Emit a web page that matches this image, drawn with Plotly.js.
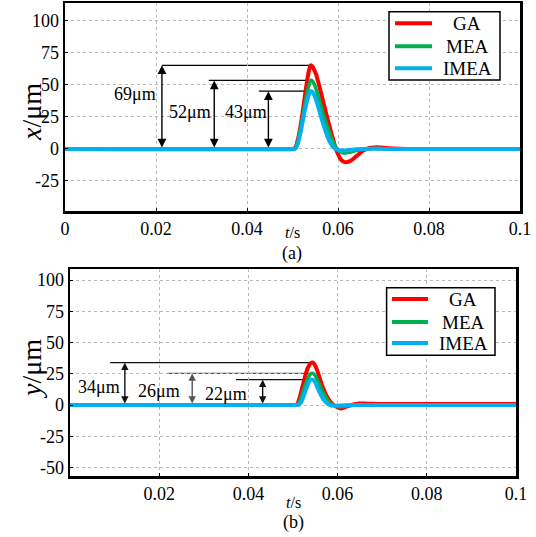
<!DOCTYPE html>
<html>
<head>
<meta charset="utf-8">
<script src="https://cdn.plot.ly/plotly-3.0.1.min.js"></script>
<style>html,body{margin:0;padding:0;background:#fff;}#chart{width:536px;height:537px;}</style>
</head>
<body>
<div id="chart"></div>
<script>
// ---------- data ----------
const seriesNames = ['GA', 'MEA', 'IMEA'];

// (a) x displacement, µm
const tTop = [0, 0.0500, 0.0504, 0.0508, 0.0512, 0.0516, 0.0520, 0.0524, 0.0528, 0.0532, 0.0536, 0.0540, 0.0544, 0.0548, 0.0552, 0.0556, 0.0560, 0.0564, 0.0568, 0.0572, 0.0576, 0.0580, 0.0584, 0.0588, 0.0592, 0.0596, 0.0600, 0.0605, 0.0610, 0.0615, 0.0620, 0.0625, 0.0630, 0.0640, 0.0650, 0.0660, 0.0670, 0.0680, 0.0690, 0.0700, 0.0720, 0.0750, 0.1000];
const gaX   = [0, 0, 0.3, 2.5, 7.5, 14.5, 23, 33, 43.5, 53, 61, 65.3, 64.3, 61.5, 58, 53, 47.5, 42, 36, 30.5, 25, 19.5, 14, 9, 4, -0.5, -4, -7.5, -9.5, -10.3, -10.3, -9.8, -8.8, -5.8, -2.8, -0.5, 0.7, 1.2, 1.2, 0.9, 0.4, 0, 0];
const meaX  = [0, 0, 0.2, 2, 6.5, 13, 20.5, 28.5, 36.5, 43.5, 49.5, 53.5, 53, 50.5, 46.5, 42, 37, 32, 27, 22.5, 18, 14, 10, 6.5, 3.5, 1, -1, -2.3, -3, -3.2, -3, -2.6, -2.2, -1.3, -0.6, -0.1, 0.2, 0.3, 0.3, 0.2, 0.1, 0, 0];
const imeaX = [0, 0, 0, 1, 4.5, 10, 17, 24.5, 31.5, 37.5, 42.5, 45.1, 44.5, 42, 38, 33.5, 28.5, 23.5, 19, 14.5, 10.5, 7, 4.2, 2, 0.6, -0.3, -0.8, -1.2, -1.3, -1.2, -1, -0.8, -0.6, -0.3, -0.1, 0, 0.1, 0.1, 0.1, 0, 0, 0, 0];
const topLabels = ['69μm', '52μm', '43μm'];

// (b) y displacement, µm
const tBot = [0, 0.0500, 0.0505, 0.0510, 0.0515, 0.0520, 0.0525, 0.0530, 0.0535, 0.0540, 0.0545, 0.0550, 0.0555, 0.0560, 0.0565, 0.0570, 0.0575, 0.0580, 0.0585, 0.0590, 0.0595, 0.0600, 0.0605, 0.0610, 0.0620, 0.0630, 0.0640, 0.0650, 0.0660, 0.0670, 0.0680, 0.0700, 0.0750, 0.0800, 0.1000];
const gaY   = [0, 0, 0, 1, 6, 13, 20, 26.5, 31, 33.5, 33.9, 31.5, 27, 21.5, 16, 11.5, 7.5, 4.5, 2, 0.5, -0.8, -2, -2.6, -2.5, -1.2, 0, 0.8, 1.2, 1.2, 1.1, 1, 0.9, 0.8, 0.8, 0.8];
const meaY  = [0, 0, 0, 0, 3, 8, 13.5, 18.5, 22.5, 25, 25.3, 23.5, 20, 16, 12, 8.5, 5.5, 3, 1.2, 0, -0.8, -1.3, -1.4, -1.2, -0.7, -0.3, 0, 0.2, 0.3, 0.3, 0.3, 0.2, 0.1, 0, 0];
const imeaY = [0, 0, 0, 0, 0.5, 3.5, 8.5, 13.5, 18, 20.3, 20.3, 18, 14, 10, 6.5, 3.8, 1.8, 0.5, -0.2, -0.5, -0.6, -0.5, -0.4, -0.3, -0.1, 0, 0, 0, 0, 0, 0, 0, 0, 0, 0];
const botLabels = ['34μm', '26μm', '22μm'];

// tick labels
const xTickValsTop = [0, 0.02, 0.04, 0.06, 0.08, 0.1];
const xTickTextTop = ['0', '0.02', '0.04', '0.06', '0.08', '0.1'];
const xTickValsBot = [0.02, 0.04, 0.06, 0.08, 0.1];
const xTickTextBot = ['0.02', '0.04', '0.06', '0.08', '0.1'];
const yTickValsTop = [-25, 0, 25, 50, 75, 100];
const yTickTextTop = ['-25', '0', '25', '50', '75', '100'];
const yTickValsBot = [-50, -25, 0, 25, 50, 75, 100];
const yTickTextBot = ['-50', '-25', '0', '25', '50', '75', '100'];

// ---------- styles / positions ----------
const colors = ['#ff0000', '#00b050', '#00b0f0'];
const widths = [4, 3.5, 4];
const FONT = 'Liberation Serif';
const W = 536, H = 537;

const topMarkPos = [
  {arrowT: 0.0213, lineT: 0.0213, labT: 0.0153, labY: 43},
  {arrowT: 0.0328, lineT: 0.0316, labT: 0.0275, labY: 28.5},
  {arrowT: 0.0447, lineT: 0.0426, labT: 0.0397, labY: 28.5}
];
const botMarkPos = [
  {arrowT: 0.0123, lineT: 0.0090, labT: 0.0064, labY: 14.5, color: '#111'},
  {arrowT: 0.0274, lineT: 0.0217, labT: 0.0200, labY: 11.0, color: '#555'},
  {arrowT: 0.0432, lineT: 0.0372, labT: 0.0350, labY: 8.5, color: '#111'}
];
// legend boxes in pixels: box [x0,x1,y0,y1], swatch x0/x1, row ys, text centre x
const legendPos = [
  {box: [389, 500, 11.7, 80], sw: [395, 432], rows: [23.3, 46.2, 68.3], tx: 467},
  {box: [386.6, 495, 287.7, 355.2], sw: [392, 428], rows: [299, 322, 343], tx: 463}
];

function peak(t, v) {
  let k = 0;
  for (let i = 1; i < v.length; i++) if (v[i] > v[k]) k = i;
  return {t: t[k], v: v[k]};
}

const topSeries = [gaX, meaX, imeaX];
const botSeries = [gaY, meaY, imeaY];

const traces = [];
topSeries.forEach((v, i) => traces.push({
  type: 'scatter', mode: 'lines', x: tTop, y: v, name: seriesNames[i],
  xaxis: 'x', yaxis: 'y', showlegend: false,
  line: {color: colors[i], width: widths[i], shape: 'spline', smoothing: 0.6}
}));
botSeries.forEach((v, i) => traces.push({
  type: 'scatter', mode: 'lines', x: tBot, y: v, name: seriesNames[i],
  xaxis: 'x2', yaxis: 'y2', showlegend: false,
  line: {color: colors[i], width: widths[i], shape: 'spline', smoothing: 0.6}
}));

const shapes = [];
const annotations = [];
const txtFont = (s) => ({family: FONT, size: s, color: '#000'});

function addMarks(series, t, pos, labels, xr, yr, fontSize, headSize) {
  series.forEach((v, i) => {
    const p = peak(t, v);
    const c = pos[i].color || '#000';
    shapes.push({type: 'line', xref: xr, yref: yr, x0: pos[i].lineT, x1: p.t, y0: p.v, y1: p.v,
      line: {color: c, width: 1.3}, layer: 'below'});
    annotations.push({xref: xr, yref: yr, axref: xr, ayref: yr,
      x: pos[i].arrowT, y: p.v, ax: pos[i].arrowT, ay: 0, text: '',
      font: {size: 1}, showarrow: true, arrowside: 'end+start',
      arrowhead: 2, startarrowhead: 2, arrowsize: headSize, startarrowsize: headSize,
      arrowwidth: 1.4, arrowcolor: c, standoff: 0, startstandoff: 0});
    annotations.push({xref: xr, yref: yr, x: pos[i].labT, y: pos[i].labY, text: labels[i],
      showarrow: false, xanchor: 'center', yanchor: 'middle', font: txtFont(fontSize)});
  });
}
addMarks(topSeries, tTop, topMarkPos, topLabels, 'x', 'y', 18, 1.25);
addMarks(botSeries, tBot, botMarkPos, botLabels, 'x2', 'y2', 18, 1.05);

// legends
legendPos.forEach((lp, k) => {
  shapes.push({type: 'rect', xref: 'paper', yref: 'paper',
    x0: lp.box[0] / W, x1: lp.box[1] / W, y0: 1 - lp.box[3] / H, y1: 1 - lp.box[2] / H,
    line: {color: '#000', width: 1.5}, fillcolor: '#fff', layer: 'above'});
  seriesNames.forEach((nm, i) => {
    const yy = 1 - lp.rows[i] / H;
    shapes.push({type: 'line', xref: 'paper', yref: 'paper',
      x0: lp.sw[0] / W, x1: lp.sw[1] / W, y0: yy, y1: yy,
      line: {color: colors[i], width: 4}, layer: 'above'});
    annotations.push({xref: 'paper', yref: 'paper', x: lp.tx / W, y: yy, text: nm,
      showarrow: false, xanchor: 'center', yanchor: 'middle', font: txtFont(19)});
  });
});

// axis titles and panel captions
annotations.push({xref: 'paper', yref: 'paper', x: 292 / W, y: 1 - 232 / H, text: '<i>t</i>/s',
  showarrow: false, xanchor: 'center', yanchor: 'middle', font: txtFont(16)});
annotations.push({xref: 'paper', yref: 'paper', x: 292 / W, y: 1 - 253 / H, text: '(a)',
  showarrow: false, xanchor: 'center', yanchor: 'middle', font: txtFont(18)});
annotations.push({xref: 'paper', yref: 'paper', x: 293 / W, y: 1 - 502 / H, text: '<i>t</i>/s',
  showarrow: false, xanchor: 'center', yanchor: 'middle', font: txtFont(16)});
annotations.push({xref: 'paper', yref: 'paper', x: 293 / W, y: 1 - 522 / H, text: '(b)',
  showarrow: false, xanchor: 'center', yanchor: 'middle', font: txtFont(18)});
annotations.push({xref: 'paper', yref: 'paper', x: 31 / W, y: 1 - 112 / H, text: '<i>x</i>/μm',
  showarrow: false, textangle: -90, xanchor: 'center', yanchor: 'middle', font: txtFont(28)});
annotations.push({xref: 'paper', yref: 'paper', x: 31 / W, y: 1 - 369 / H, text: '<i>y</i>/μm',
  showarrow: false, textangle: -90, xanchor: 'center', yanchor: 'middle', font: txtFont(28)});

function axisBase() {
  return {
    showline: true, linecolor: '#000', linewidth: 2.5, mirror: true,
    showgrid: true, gridcolor: '#b8b8b8', griddash: 'dot', gridwidth: 1,
    zeroline: false, ticks: 'inside', ticklen: 3, tickcolor: '#000', tickwidth: 1,
    tickfont: txtFont(18), automargin: false, fixedrange: true, tickmode: 'array'
  };
}

const layout = {
  width: W, height: H,
  margin: {l: 0, r: 0, t: 0, b: 0},
  paper_bgcolor: '#fff', plot_bgcolor: '#fff',
  showlegend: false,
  font: {family: FONT, color: '#000'},
  xaxis: Object.assign(axisBase(), {
    domain: [65 / W, 520 / W], anchor: 'y', range: [0, 0.1],
    tickvals: xTickValsTop, ticktext: xTickTextTop
  }),
  yaxis: Object.assign(axisBase(), {
    domain: [1 - 211 / H, 1 - 3 / H], anchor: 'x', range: [-48.5, 114],
    tickvals: yTickValsTop, ticktext: yTickTextTop
  }),
  xaxis2: Object.assign(axisBase(), {
    domain: [70 / W, 516 / W], anchor: 'y2', range: [0, 0.1],
    tickvals: xTickValsBot, ticktext: xTickTextBot
  }),
  yaxis2: Object.assign(axisBase(), {
    domain: [1 - 476 / H, 1 - 269 / H], anchor: 'x2', range: [-56.7, 108.8],
    tickvals: yTickValsBot, ticktext: yTickTextBot
  }),
  shapes: shapes,
  annotations: annotations
};

Plotly.newPlot('chart', traces, layout, {staticPlot: true, displayModeBar: false});
</script>
</body>
</html>
